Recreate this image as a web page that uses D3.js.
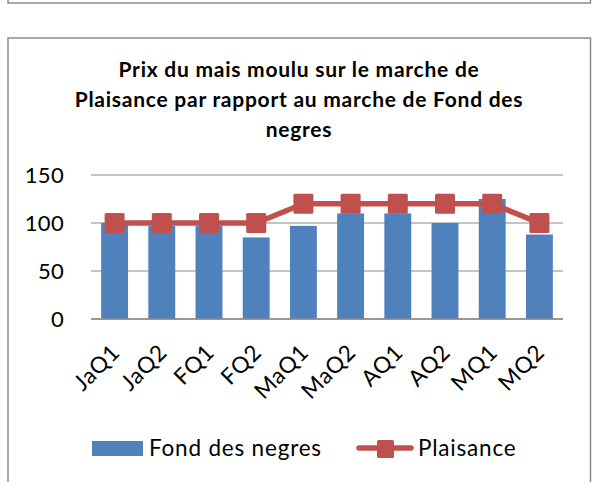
<!DOCTYPE html>
<html>
<head>
<meta charset="utf-8">
<script src="https://cdn.jsdelivr.net/npm/d3@7"></script>
<style>
  html, body { margin: 0; padding: 0; background: #fff; }
  svg { display: block; }
  text { font-family: Lato, Carlito, Calibri, "Open Sans", sans-serif; fill: #000; }
</style>
</head>
<body>
<svg id="chart" width="592" height="482"></svg>
<script>
const categories = ["JaQ1","JaQ2","FQ1","FQ2","MaQ1","MaQ2","AQ1","AQ2","MQ1","MQ2"];
const fondDesNegres = [100, 97, 97, 85, 97, 110, 110, 100, 125, 88];
const plaisance = [100, 100, 100, 100, 120, 120, 120, 120, 120, 100];
const yTicks = [0, 50, 100, 150];
const seriesNames = ["Fond des negres", "Plaisance"];
const titleLines = ["Prix du mais moulu sur le marche de", "Plaisance par rapport au marche de Fond des", "negres"];

const svg = d3.select("#chart");
const blue = "#4F81BD", red = "#C0504D", grid = "#8A8A8A", border = "#8C8C8C";
const FONT = "Lato, Carlito, Calibri, sans-serif";

// outer frames
svg.append("path")
  .attr("d", "M8,0 V3 H590.5 V0")
  .attr("fill", "none").attr("stroke", border).attr("stroke-width", 1.5);
svg.append("path")
  .attr("d", "M8,482 V38 H590.5 V482")
  .attr("fill", "none").attr("stroke", border).attr("stroke-width", 1.5);

// title
svg.append("g").selectAll("text").data(titleLines).join("text")
  .attr("x", 299).attr("y", (d, i) => 76.5 + i * 30)
  .attr("text-anchor", "middle")
  .attr("font-weight", "bold").attr("font-size", 21)
  .attr("letter-spacing", 0.75)
  .text(d => d);

const pLeft = 91, pRight = 563, pTop = 175, pBottom = 319;
const x = d3.scaleBand().domain(categories).range([pLeft, pRight]).paddingInner(0.43).paddingOuter(0.215);
const y = d3.scaleLinear().domain([0, 150]).range([pBottom, pTop]);

// gridlines
svg.append("g").selectAll("line").data(yTicks).join("line")
  .attr("x1", pLeft).attr("x2", pRight)
  .attr("y1", d => y(d)).attr("y2", d => y(d))
  .attr("stroke", grid).attr("stroke-width", 1.2);

// y axis labels
const yAxis = d3.axisLeft(y).tickValues(yTicks).tickSize(0).tickPadding(0);
const ya = svg.append("g").attr("transform", "translate(64,0)").call(yAxis);
ya.select(".domain").remove();
ya.selectAll("text").attr("font-size", 22).attr("dy", "0.36em")
  .style("font-family", FONT).attr("fill", "#000").attr("letter-spacing", 0.3);

// bars
svg.append("g").selectAll("rect").data(fondDesNegres).join("rect")
  .attr("x", (d, i) => x(categories[i]))
  .attr("width", x.bandwidth())
  .attr("y", d => y(d))
  .attr("height", d => y(0) - y(d))
  .attr("fill", blue);

// x axis line
svg.append("line").attr("x1", pLeft).attr("x2", pRight).attr("y1", y(0)).attr("y2", y(0))
  .attr("stroke", grid).attr("stroke-width", 1.5);

// line series
const cx = (i) => x(categories[i]) + x.bandwidth() / 2;
const line = d3.line().x((d, i) => cx(i)).y(d => y(d));
svg.append("path").datum(plaisance)
  .attr("d", line).attr("fill", "none")
  .attr("stroke", red).attr("stroke-width", 5.5).attr("stroke-linejoin", "round");
const ms = 20;
svg.append("g").selectAll("rect").data(plaisance).join("rect")
  .attr("x", (d, i) => cx(i) - ms / 2).attr("y", d => y(d) - ms / 2)
  .attr("width", ms).attr("height", ms).attr("rx", 1.5)
  .attr("fill", red);

// x labels
const xAxis = d3.axisBottom(x).tickSize(0).tickPadding(0);
const xa = svg.append("g").call(xAxis);
xa.select(".domain").remove();
xa.selectAll(".tick").attr("transform", null);
xa.selectAll(".tick text")
  .attr("font-size", 22.5)
  .attr("letter-spacing", 0.8)
  .style("font-family", FONT).attr("fill", "#000")
  .attr("text-anchor", "end")
  .attr("dy", "0.36em")
  .attr("y", null)
  .attr("transform", d => `translate(${x(d) + x.bandwidth() / 2 + 1},348) rotate(-45)`);

// legend
const lg = svg.append("g");
lg.append("rect").attr("x", 92).attr("y", 441).attr("width", 51).attr("height", 15).attr("fill", blue);
lg.append("text").attr("x", 149).attr("y", 456).attr("font-size", 22.5).attr("letter-spacing", 0.8).text(seriesNames[0]);
lg.append("line").attr("x1", 359).attr("x2", 411).attr("y1", 448).attr("y2", 448)
  .attr("stroke", red).attr("stroke-width", 5.5).attr("stroke-linecap", "round");
lg.append("rect").attr("x", 377).attr("y", 440).attr("width", 17).attr("height", 18).attr("rx", 1.5).attr("fill", red);
lg.append("text").attr("x", 418).attr("y", 456).attr("font-size", 22.5).attr("letter-spacing", 0.8).text(seriesNames[1]);
</script>
</body>
</html>
